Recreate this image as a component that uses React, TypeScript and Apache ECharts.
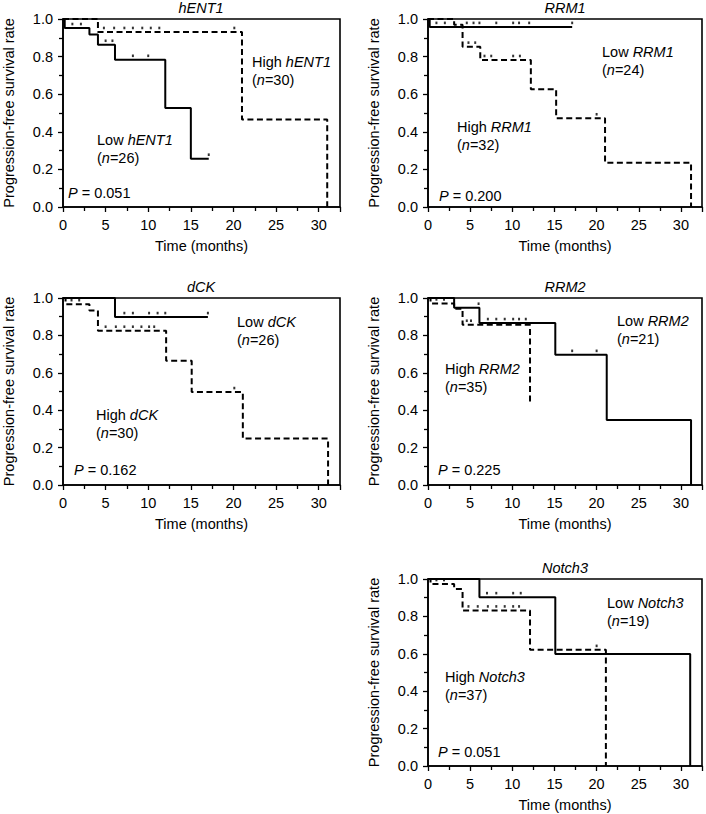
import { useEffect, useRef } from "react"
import * as echarts from "echarts"

type Pt = [number, number]

// axis ticks
const timeTicks = [0, 5, 10, 15, 20, 25, 30]
const rateTicks = [0, 0.2, 0.4, 0.6, 0.8, 1.0]
const timeMax = 32.5

// panel labels
const genes = ["hENT1", "RRM1", "dCK", "RRM2", "Notch3"]
const lowN = [26, 24, 26, 21, 19]
const highN = [30, 32, 30, 35, 37]
const pValues = ["0.051", "0.200", "0.162", "0.225", "0.051"]

// Kaplan-Meier curves: [time (months), survival after the step]
const hent1Low: Pt[] = [[0, 1], [0.2, 0.952], [3.1, 0.917], [4.1, 0.863], [6.1, 0.783], [12.0, 0.527], [15.0, 0.257], [17.1, 0.257]]
const hent1High: Pt[] = [[0, 1], [4.1, 0.931], [21.0, 0.465], [31.0, 0]]
const rrm1Low: Pt[] = [[0, 1], [0.2, 0.958], [17.1, 0.958]]
const rrm1High: Pt[] = [[0, 1], [3.1, 0.969], [4.1, 0.853], [6.2, 0.782], [12.2, 0.626], [15.2, 0.472], [21.0, 0.236], [31.2, 0]]
const dckLow: Pt[] = [[0, 1], [6.1, 0.898], [17.0, 0.898]]
const dckHigh: Pt[] = [[0, 1], [0.3, 0.967], [3.1, 0.933], [4.1, 0.825], [12.1, 0.664], [15.1, 0.497], [21.1, 0.249], [31.1, 0]]
const rrm2Low: Pt[] = [[0, 1], [3.1, 0.948], [6.1, 0.866], [15.1, 0.696], [21.2, 0.348], [31.2, 0]]
const rrm2High: Pt[] = [[0, 1], [0.3, 0.971], [3.1, 0.943], [4.1, 0.857], [12.1, 0.43]]
const notch3Low: Pt[] = [[0, 1], [6.1, 0.903], [15.1, 0.599], [31.1, 0]]
const notch3High: Pt[] = [[0, 1], [0.3, 0.973], [3.1, 0.946], [4.1, 0.832], [12.1, 0.621], [21.1, 0]]

// censored times (months)
const hent1LowCensor = [1.1, 2.1, 5.0, 5.8, 8.2, 10.0, 17.1]
const hent1HighCensor = [4.8, 6.0, 7.2, 8.2, 9.3, 10.3, 11.3, 20.1]
const rrm1LowCensor = [1.0, 2.0, 4.6, 5.4, 6.1, 8.1, 10.1, 10.8, 12.0, 17.1]
const rrm1HighCensor = [4.8, 5.6, 6.7, 7.5, 10.1, 10.9, 20.0]
const dckLowCensor = [7.2, 8.2, 10.1, 11.1, 12.0, 17.0]
const dckHighCensor = [1.0, 1.9, 5.0, 6.2, 7.2, 8.2, 9.2, 10.1, 10.7, 20.1]
const rrm2LowCensor = [6.0, 7.1, 8.1, 9.1, 10.1, 10.8, 11.6, 17.1, 20.0]
const rrm2HighCensor = [1.0, 1.9, 4.6, 5.1]
const notch3LowCensor = [7.0, 8.1, 10.1, 11.0]
const notch3HighCensor = [1.0, 1.9, 4.8, 5.9, 7.1, 8.1, 9.1, 10.1, 10.8, 20.0]

const lowCurves = [hent1Low, rrm1Low, dckLow, rrm2Low, notch3Low]
const highCurves = [hent1High, rrm1High, dckHigh, rrm2High, notch3High]
const lowCensors = [hent1LowCensor, rrm1LowCensor, dckLowCensor, rrm2LowCensor, notch3LowCensor]
const highCensors = [hent1HighCensor, rrm1HighCensor, dckHighCensor, rrm2HighCensor, notch3HighCensor]

// layout of each panel (grid box + where the annotations sit)
const grids = [
  { left: 62, top: 19, width: 278, height: 188 },
  { left: 428, top: 19, width: 274, height: 188 },
  { left: 62, top: 298, width: 278, height: 187 },
  { left: 428, top: 298, width: 274, height: 187 },
  { left: 428, top: 579, width: 274, height: 187 },
]
const lowTextPos: Pt[] = [[97, 140], [602, 52], [237, 322], [617, 321], [607, 603]]
const highTextPos: Pt[] = [[252, 62], [457, 127], [96, 415], [445, 369], [445, 677]]
const pTextPos: Pt[] = [[68, 193], [439, 196], [74, 470], [438, 470], [438, 752]]

const FONT = "'Liberation Sans', Arial, Helvetica, sans-serif"
const INK = "#000"

function survivalAt(curve: Pt[], t: number) {
  let s = curve[0][1]
  for (const [x, y] of curve) {
    if (x <= t) s = y
  }
  return s
}

const rich = {
  t: { fontSize: 14.5, fontFamily: FONT, fill: INK },
  i: { fontSize: 14.5, fontFamily: FONT, fill: INK, fontStyle: "italic" },
}

function label(x: number, y: number, text: string) {
  return {
    type: "text",
    x,
    y,
    style: { text, rich, verticalAlign: "middle", align: "left" },
  }
}

export default function App() {
  const chartRef = useRef<HTMLDivElement>(null)

  useEffect(() => {
    if (!chartRef.current) return
    const chart = echarts.init(chartRef.current, null, { renderer: "svg" })

    const graphic: any[] = []
    genes.forEach((g, i) => {
      graphic.push(label(highTextPos[i][0], highTextPos[i][1], `{t|High }{i|${g}}`))
      graphic.push(label(highTextPos[i][0], highTextPos[i][1] + 18, `{t|(}{i|n}{t|=${highN[i]})}`))
      graphic.push(label(lowTextPos[i][0], lowTextPos[i][1], `{t|Low }{i|${g}}`))
      graphic.push(label(lowTextPos[i][0], lowTextPos[i][1] + 18, `{t|(}{i|n}{t|=${lowN[i]})}`))
      graphic.push(label(pTextPos[i][0], pTextPos[i][1], `{i|P}{t| = ${pValues[i]}}`))
    })

    const series: any[] = []
    genes.forEach((g, i) => {
      const common = { xAxisIndex: i, yAxisIndex: i, clip: false, silent: true }
      series.push({
        ...common,
        name: `High ${g}`,
        type: "line",
        step: "end",
        symbol: "none",
        data: highCurves[i],
        lineStyle: { color: INK, width: 2, type: [6, 3.5] },
      })
      series.push({
        ...common,
        name: `Low ${g}`,
        type: "line",
        step: "end",
        symbol: "none",
        data: lowCurves[i],
        lineStyle: { color: INK, width: 2 },
      })
      series.push({
        ...common,
        type: "scatter",
        symbol: "rect",
        symbolSize: [2, 2.6],
        symbolOffset: [0, -4],
        itemStyle: { color: INK },
        data: lowCensors[i].map((t) => [t, survivalAt(lowCurves[i], t)]),
      })
      series.push({
        ...common,
        type: "scatter",
        symbol: "rect",
        symbolSize: [2, 2.6],
        symbolOffset: [0, -4],
        itemStyle: { color: INK },
        data: highCensors[i].map((t) => [t, survivalAt(highCurves[i], t)]),
      })
    })

    const option = {
      animation: false,
      textStyle: { fontFamily: FONT, color: INK },
      title: genes.map((g, i) => ({
        text: g,
        left: grids[i].left + grids[i].width / 2,
        top: grids[i].top - 19,
        textAlign: "center",
        padding: 0,
        textStyle: { fontSize: 14.5, fontStyle: "italic", fontWeight: "normal", color: INK, fontFamily: FONT },
      })),
      grid: grids.map((g) => ({
        ...g,
        show: true,
        borderColor: INK,
        borderWidth: 1.6,
        backgroundColor: "transparent",
      })),
      xAxis: grids.map((_, i) => ({
        gridIndex: i,
        type: "value",
        min: timeTicks[0],
        max: timeMax,
        interval: timeTicks[1] - timeTicks[0],
        name: "Time (months)",
        nameLocation: "middle",
        nameGap: 31,
        nameTextStyle: { fontSize: 14.5, color: INK, fontFamily: FONT },
        axisLine: { onZero: false, lineStyle: { color: INK, width: 1.6 } },
        axisTick: { length: 5, lineStyle: { color: INK, width: 1.3 } },
        minorTick: { show: true, splitNumber: 2, length: 4, lineStyle: { color: INK, width: 1.3 } },
        splitLine: { show: false },
        axisLabel: {
          fontSize: 14.5,
          color: INK,
          margin: 10,
          formatter: (v: number) => (timeTicks.includes(v) ? String(v) : ""),
        },
      })),
      yAxis: grids.map((_, i) => ({
        gridIndex: i,
        type: "value",
        min: rateTicks[0],
        max: rateTicks[rateTicks.length - 1],
        interval: rateTicks[1] - rateTicks[0],
        name: "Progression-free survival rate",
        nameLocation: "middle",
        nameRotate: 90,
        nameGap: 47,
        nameTextStyle: { fontSize: 14.5, color: INK, fontFamily: FONT },
        axisLine: { show: true, onZero: false, lineStyle: { color: INK, width: 1.6 } },
        axisTick: { show: true, length: 5, lineStyle: { color: INK, width: 1.3 } },
        minorTick: { show: true, splitNumber: 2, length: 4, lineStyle: { color: INK, width: 1.3 } },
        splitLine: { show: false },
        axisLabel: {
          fontSize: 14.5,
          color: INK,
          margin: 10,
          formatter: (v: number) => v.toFixed(1),
        },
      })),
      graphic,
      series,
    }

    chart.setOption(option as any)

    return () => {
      chart.dispose()
    }
  }, [])

  return (
    <div
      ref={chartRef}
      style={{ position: "absolute", left: 0, top: 0, width: 706, height: 814, background: "#fff" }}
    />
  )
}
